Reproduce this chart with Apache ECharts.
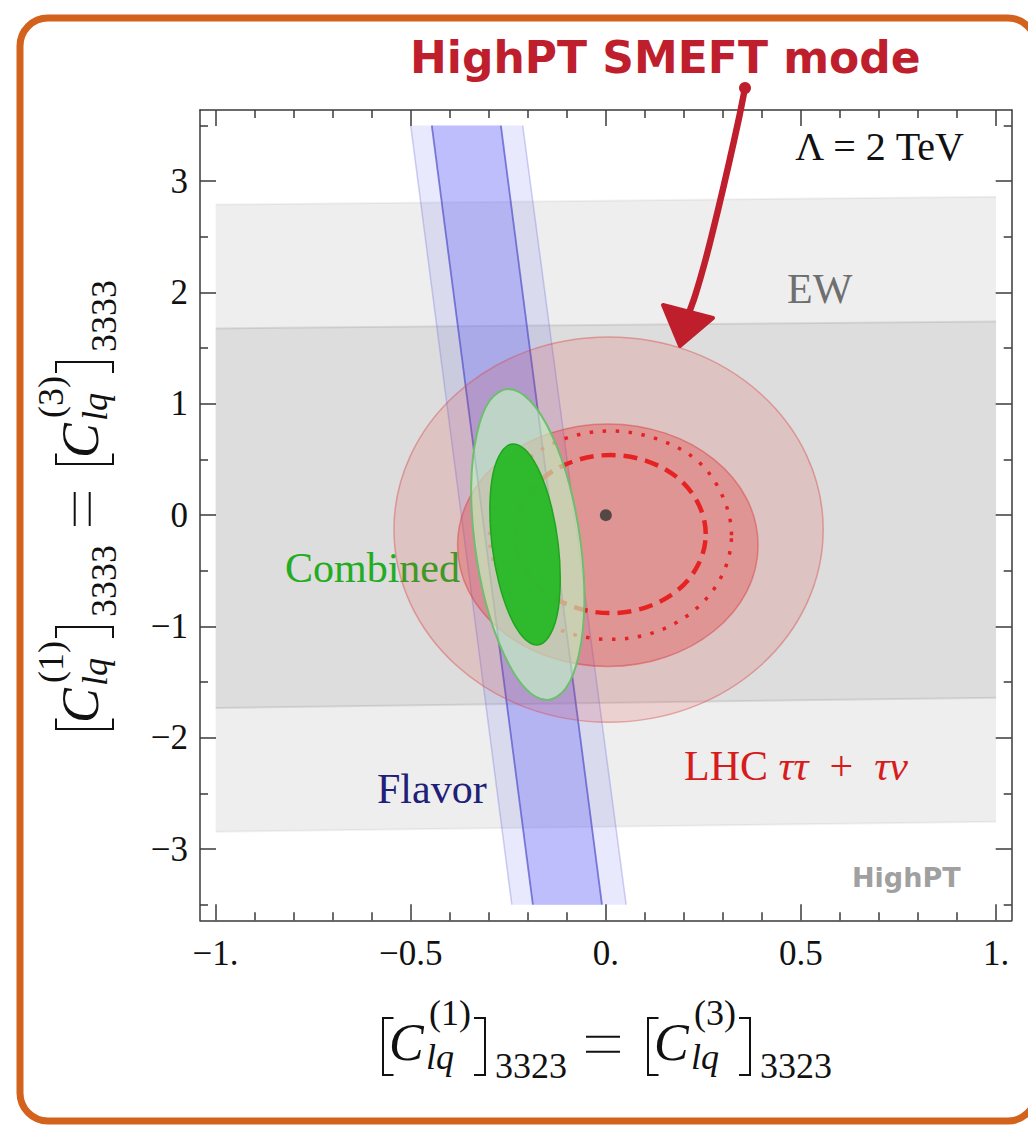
<!DOCTYPE html>
<html><head><meta charset="utf-8">
<script src="https://cdn.jsdelivr.net/npm/echarts@6/dist/echarts.min.js"></script>
<style>html,body{margin:0;padding:0;background:#fff}#c{width:1028px;height:1127px}</style>
</head><body><div id="c"></div>
<script>
// ---------- axis ticks / labels ----------
const xRange = [-1.04, 1.04];
const yRange = [-3.64, 3.64];
const xMajorTicks = [-1, -0.5, 0, 0.5, 1];
const xTickLabels = ['\u22121.', '\u22120.5', '0.', '0.5', '1.'];
const xMinorTicks = [-0.9,-0.8,-0.7,-0.6,-0.4,-0.3,-0.2,-0.1,0.1,0.2,0.3,0.4,0.6,0.7,0.8,0.9];
const yMajorTicks = [-3, -2, -1, 0, 1, 2, 3];
const yTickLabels = ['\u22123', '\u22122', '\u22121', '0', '1', '2', '3'];
const yMinorTicks = [-3.5,-2.5,-1.5,-0.5,0.5,1.5,2.5,3.5];

// ---------- EW bands (corners) ----------
const ewOuter = [[-1, 2.79], [1, 2.861], [1, -2.754], [-1, -2.844]];
const ewInner = [[-1, 1.678], [1, 1.74], [1, -1.641], [-1, -1.732]];

// ---------- Flavor bands (corners) ----------
const flavorOuter = [[-0.5, 3.5], [-0.213, 3.5], [0.052, -3.5], [-0.241, -3.5]];
const flavorInner = [[-0.446, 3.5], [-0.269, 3.5], [-0.010, -3.5], [-0.187, -3.5]];

// ---------- LHC tautau + taunu contours ----------
const lhcOuter = [[0.557,-0.13],[0.515,0.533],[0.396,1.093],[0.218,1.469],[0.007,1.60],[-0.204,1.469],[-0.382,1.093],[-0.501,0.533],[-0.543,-0.13],[-0.501,-0.793],[-0.382,-1.353],[-0.204,-1.729],[0.007,-1.86],[0.218,-1.729],[0.396,-1.353],[0.515,-0.793]];
const lhcInner = [[0.39,-0.27],[0.361,0.147],[0.277,0.501],[0.152,0.737],[0.005,0.82],[-0.142,0.737],[-0.267,0.501],[-0.351,0.147],[-0.38,-0.27],[-0.351,-0.687],[-0.267,-1.041],[-0.142,-1.277],[0.005,-1.36],[0.152,-1.277],[0.277,-1.041],[0.361,-0.687]];
const lhcDotted = [[0.322,-0.18],[0.298,0.178],[0.235,0.487],[0.131,0.685],[0.012,0.756],[-0.107,0.685],[-0.207,0.482],[-0.274,0.178],[-0.298,-0.18],[-0.274,-0.538],[-0.207,-0.842],[-0.107,-1.045],[0.012,-1.116],[0.131,-1.045],[0.231,-0.842],[0.298,-0.538]];
const lhcDashed = [[0.256,-0.17],[0.237,0.102],[0.185,0.332],[0.105,0.486],[0.012,0.54],[-0.081,0.486],[-0.161,0.332],[-0.213,0.102],[-0.232,-0.17],[-0.213,-0.442],[-0.161,-0.672],[-0.081,-0.826],[0.012,-0.88],[0.105,-0.826],[0.185,-0.672],[0.237,-0.442]];
const bestFit = [[0, 0]];

// ---------- Combined contours ----------
const combinedOuter = [[-0.250,1.134],[-0.194,1.028],[-0.139,0.725],[-0.093,0.272],[-0.064,-0.263],[-0.055,-0.798],[-0.069,-1.251],[-0.102,-1.554],[-0.151,-1.66],[-0.207,-1.554],[-0.261,-1.251],[-0.307,-0.798],[-0.336,-0.263],[-0.345,0.272],[-0.331,0.725],[-0.298,1.028]];
const combinedInner = [[-0.237,0.64],[-0.202,0.571],[-0.168,0.375],[-0.140,0.083],[-0.122,-0.263],[-0.117,-0.609],[-0.125,-0.901],[-0.147,-1.097],[-0.177,-1.166],[-0.212,-1.097],[-0.246,-0.901],[-0.274,-0.609],[-0.292,-0.263],[-0.297,0.083],[-0.289,0.375],[-0.267,0.571]];

const SERIF = '"Liberation Serif", "Times New Roman", serif';
const AXC = '#3a3a3a';

function band(name, pts, fill, edgeStroke, edgeWidth, edges) {
  return {
    type: 'custom', name, coordinateSystem: 'cartesian2d', data: pts, silent: true,
    renderItem(params, api) {
      if (params.dataIndex !== 0) return null;
      const P = pts.map(p => api.coord(p));
      const children = [{ type: 'polygon', shape: { points: P }, style: { fill: fill, stroke: null } }];
      edges.forEach(([a, b]) => children.push({ type: 'polyline', shape: { points: [P[a], P[b]] }, style: { fill: null, stroke: edgeStroke, lineWidth: edgeWidth } }));
      return { type: 'group', children };
    }
  };
}
function contour(name, pts, style) {
  return {
    type: 'custom', name, coordinateSystem: 'cartesian2d', data: pts, silent: true,
    renderItem(params, api) {
      if (params.dataIndex !== 0) return null;
      const P = pts.map(p => api.coord(p));
      return { type: 'polygon', shape: { points: P, smooth: 0.35 }, style };
    }
  };
}

function xAxisDef(pos, major, labels) {
  return {
    type: 'value', min: xRange[0], max: xRange[1], position: pos,
    axisLine: { show: major, onZero: false, lineStyle: { color: AXC, width: 1.5 } },
    axisTick: { show: true, inside: true, length: major ? 16 : 8, customValues: major ? xMajorTicks : xMinorTicks, lineStyle: { color: AXC, width: 1.5 } },
    axisLabel: labels ? { show: true, customValues: xMajorTicks, formatter: v => xTickLabels[xMajorTicks.indexOf(v)], fontFamily: SERIF, fontSize: 35, color: '#111', margin: 16 } : { show: false },
    splitLine: { show: false }
  };
}
function yAxisDef(pos, major, labels) {
  return {
    type: 'value', min: yRange[0], max: yRange[1], position: pos,
    axisLine: { show: major, onZero: false, lineStyle: { color: AXC, width: 1.5 } },
    axisTick: { show: true, inside: true, length: major ? 16 : 8, customValues: major ? yMajorTicks : yMinorTicks, lineStyle: { color: AXC, width: 1.5 } },
    axisLabel: labels ? { show: true, customValues: yMajorTicks, formatter: v => yTickLabels[yMajorTicks.indexOf(v)], fontFamily: SERIF, fontSize: 35, color: '#111', margin: 12 } : { show: false },
    splitLine: { show: false }
  };
}

// text helper (baseline-positioned)
function T(text, x, bl, font, fs, fill, align) {
  return { type: 'text', x: x, y: bl - 0.34 * fs,
    style: { text: text, font: font, fill: fill || '#111', align: align || 'left', verticalAlign: 'middle', textAlign: align || 'left', textVerticalAlign: 'middle' } };
}
function mathTitle(sub) {
  const up = '36px ' + SERIF, it = 'italic 36px ' + SERIF, C = 'italic 52px ' + SERIF;
  const lb = (x0, x1) => ({ type: 'polyline', shape: { points: [[x1, -42], [x0, -42], [x0, 15], [x1, 15]] }, style: { fill: null, stroke: '#111', lineWidth: 2 } });
  const eq = (x0, x1, y) => ({ type: 'polyline', shape: { points: [[x0, y], [x1, y]] }, style: { fill: null, stroke: '#111', lineWidth: 2 } });
  return [
    lb(1, 11.5), T('C', 7, 0, C, 52), T('(1)', 47, -35, up, 36), T('lq', 44, 9, it, 36), lb(103, 92), T(sub, 113, 18, up, 36),
    eq(204, 238, -23.3), eq(204, 238, -8.3),
    lb(266, 276.5), T('C', 272, 0, C, 52), T('(3)', 312, -35, up, 36), T('lq', 309, 9, it, 36), lb(368, 357), T(sub, 378, 18, up, 36)
  ];
}

const option = {
  animation: false,
  backgroundColor: '#ffffff',
  grid: { left: 200, top: 110, width: 811.7, height: 810.3, containLabel: false, outerBoundsMode: 'none' },
  xAxis: [xAxisDef('bottom', true, true), xAxisDef('bottom', false, false), xAxisDef('top', true, false), xAxisDef('top', false, false)],
  yAxis: [yAxisDef('left', true, true), yAxisDef('left', false, false), yAxisDef('right', true, false), yAxisDef('right', false, false)],
  series: [
    band('EW outer', ewOuter, 'rgba(0,0,0,0.066)', 'rgba(0,0,0,0.05)', 2, [[0, 1], [3, 2]]),
    band('EW inner', ewInner, 'rgba(0,0,0,0.072)', 'rgba(0,0,0,0.09)', 2, [[0, 1], [3, 2]]),
    band('Flavor outer', flavorOuter, 'rgba(100,100,250,0.14)', 'rgba(120,120,220,0.35)', 1.5, [[0, 3], [1, 2]]),
    band('Flavor inner', flavorInner, 'rgba(100,100,250,0.325)', 'rgba(80,80,200,0.7)', 1.8, [[0, 3], [1, 2]]),
    contour('LHC outer', lhcOuter, { fill: 'rgba(230,50,50,0.152)', stroke: 'rgba(215,80,80,0.45)', lineWidth: 1.5 }),
    contour('LHC inner', lhcInner, { fill: 'rgba(230,50,50,0.31)', stroke: 'rgba(215,70,70,0.5)', lineWidth: 1.5 }),
    contour('LHC dotted', lhcDotted, { fill: null, stroke: 'rgb(230,35,35)', lineWidth: 3.5, lineDash: [3.5, 9.5] }),
    contour('LHC dashed', lhcDashed, { fill: null, stroke: 'rgb(230,35,35)', lineWidth: 4.5, lineDash: [14, 8] }),
    contour('Combined outer', combinedOuter, { fill: 'rgba(195,248,195,0.62)', stroke: 'rgb(110,190,110)', lineWidth: 2 }),
    contour('Combined inner', combinedInner, { fill: 'rgba(35,185,35,0.92)', stroke: 'rgb(30,165,30)', lineWidth: 1.5 }),
    { type: 'scatter', name: 'best fit', data: bestFit, symbol: 'circle', symbolSize: 12, itemStyle: { color: '#333' }, silent: true, z: 5 }
  ],
  graphic: { elements: [
    { type: 'rect', shape: { x: 20, y: 18, width: 1016, height: 1103, r: 28 }, style: { fill: null, stroke: '#d2621c', lineWidth: 7 }, z: 100 },
    T('HighPT SMEFT mode', 410, 72, 'bold 44px "DejaVu Sans", sans-serif', 44, '#bf1e2d'),
    { type: 'polyline', shape: { points: [[745, 88], [739, 118], [729, 163], [718, 210], [706, 258], [695, 296], [687, 318]], smooth: 0.3 }, style: { fill: null, stroke: '#bf1e2d', lineWidth: 6.5, lineCap: 'round', lineJoin: 'round' }, z: 60 },
    { type: 'circle', shape: { cx: 745, cy: 88, r: 6 }, style: { fill: '#bf1e2d' }, z: 60 },
    { type: 'polygon', shape: { points: [[663, 305], [713, 318], [680, 346]] }, style: { fill: '#bf1e2d', stroke: '#bf1e2d', lineWidth: 4, lineJoin: 'round' }, z: 60 },
    T('\u039B = 2 TeV', 964, 160, '40px ' + SERIF, 40, '#111', 'right'),
    T('EW', 787, 303, '42px ' + SERIF, 42, '#777'),
    T('Combined', 285, 582, '42px ' + SERIF, 42, 'rgb(40,200,40)'),
    T('Flavor', 377, 803, '42px ' + SERIF, 42, 'rgb(35,35,130)'),
    { type: 'text', x: 684, y: 780 - 0.34 * 42, style: { text: '{r|LHC }{i|\u03C4\u03C4}{r|  +  }{i|\u03C4\u03BD}', align: 'left', verticalAlign: 'middle', textAlign: 'left', textVerticalAlign: 'middle',
      rich: { r: { fontSize: 42, fontFamily: SERIF, fill: 'rgb(230,30,30)', color: 'rgb(230,30,30)' }, i: { fontSize: 42, fontStyle: 'italic', fontFamily: SERIF, fill: 'rgb(230,30,30)', color: 'rgb(230,30,30)' } } } },
    T('HighPT', 852, 887, 'bold 27px "DejaVu Sans", sans-serif', 27, '#a0a0a0'),
    { type: 'group', x: 382, y: 1060, children: mathTitle('3323') },
    { type: 'group', x: 98, y: 730, rotation: Math.PI / 2, children: mathTitle('3333') }
  ] }
};
const chart = echarts.init(document.getElementById('c'), null, { renderer: 'svg', width: 1028, height: 1127 });
chart.setOption(option);
</script>
</body></html>
